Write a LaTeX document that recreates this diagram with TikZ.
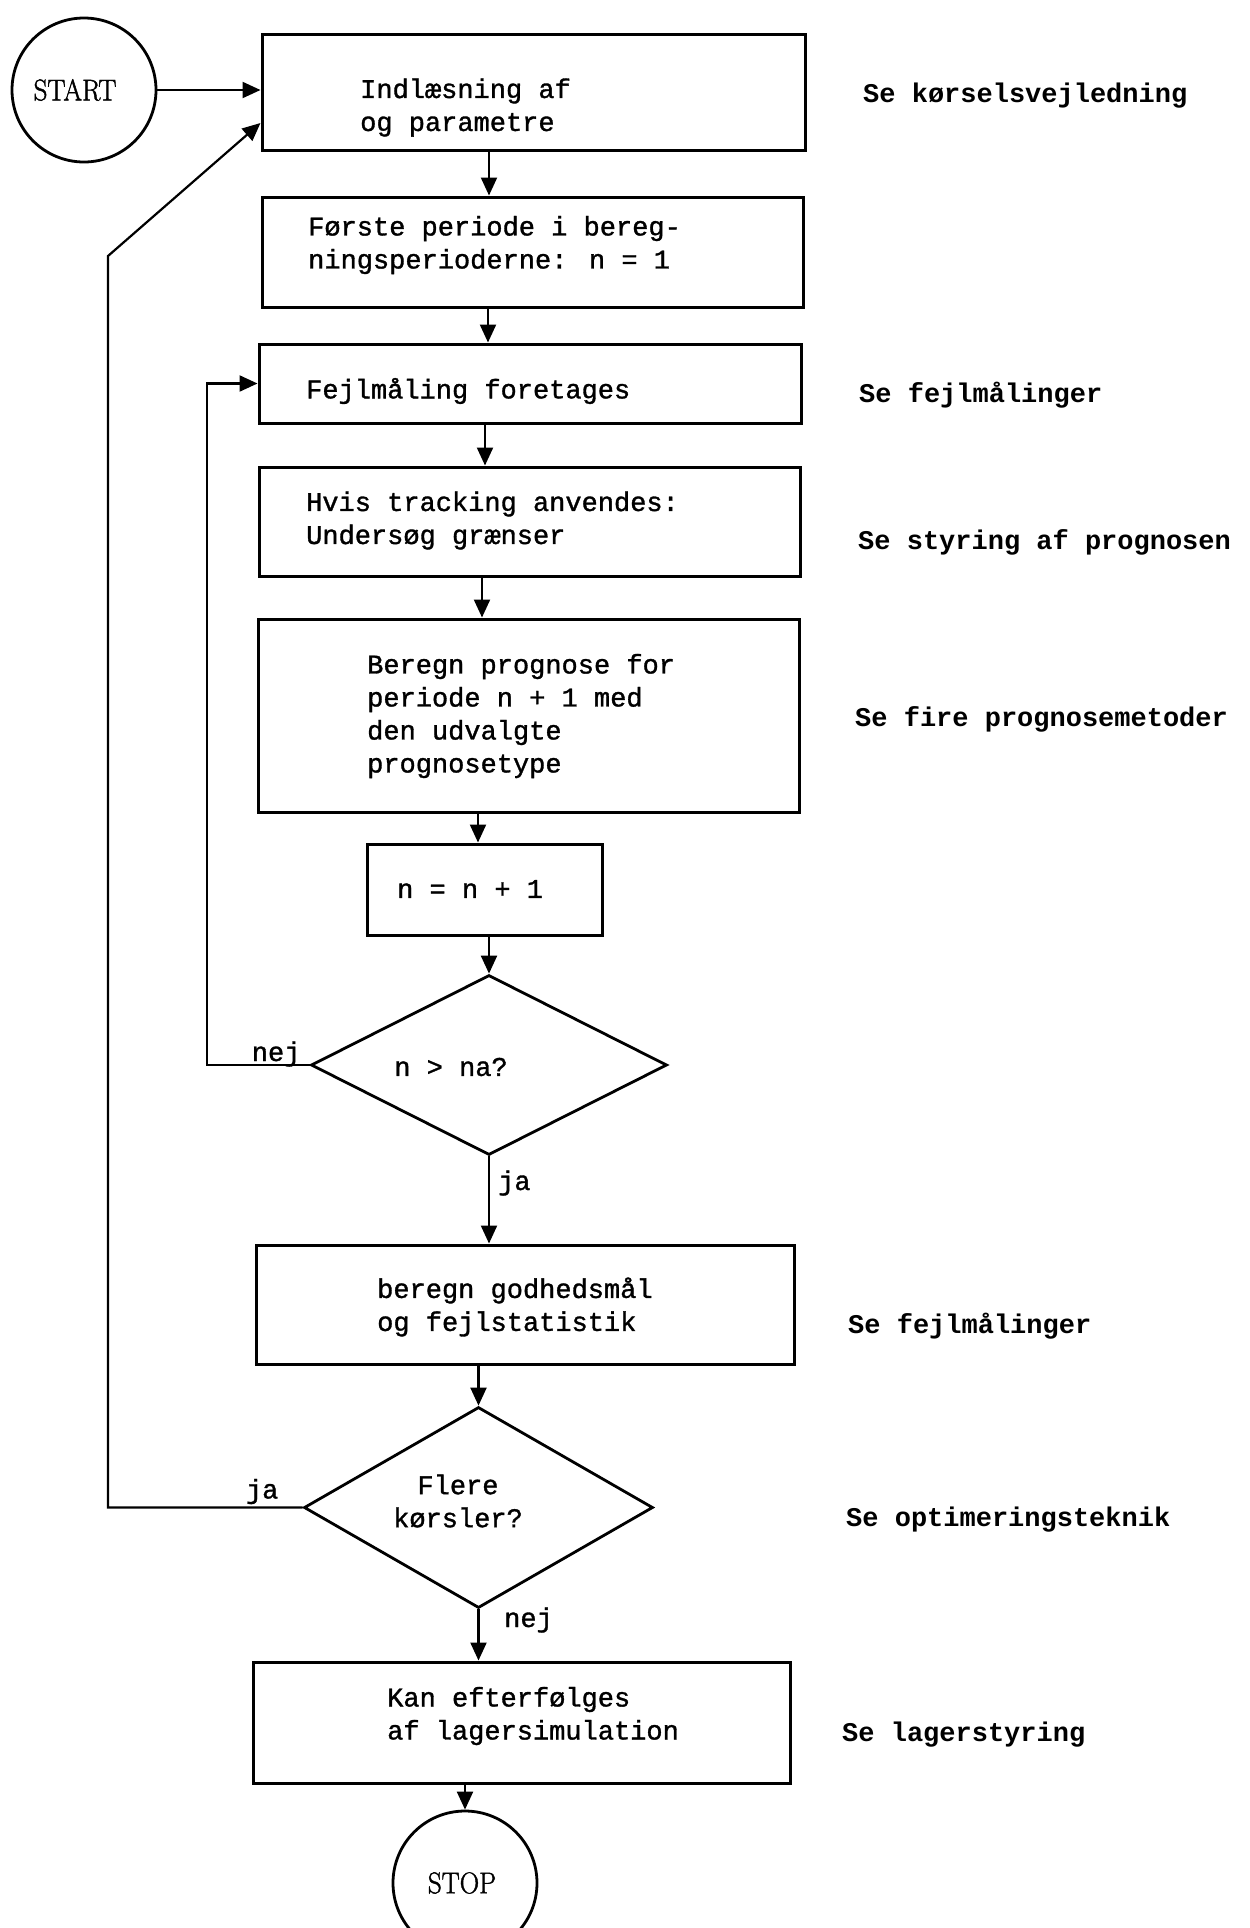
\documentclass[tikz,border=0pt]{standalone}
\usepackage{fontspec}
\setmonofont{Liberation Mono}
\newfontfamily\boxfont[FakeBold=1.2]{Liberation Mono}
\newfontfamily\termfont[FakeBold=1.4,FakeStretch=0.9]{Latin Modern Roman}
\usetikzlibrary{shapes.geometric,arrows.meta,calc}
\tikzset{
  box/.style={draw, line width=3pt, inner sep=0pt},
  txt/.style={font=\fontsize{27}{33}\selectfont\boxfont, align=left, inner sep=0pt},
  reftxt/.style={font=\fontsize{27}{33}\selectfont\ttfamily\bfseries, anchor=west, inner sep=0pt},
  lbl/.style={font=\fontsize{27}{33}\selectfont\boxfont, inner sep=0pt},
  term/.style={draw, circle, line width=2.8pt, minimum size=144pt, inner sep=0pt},
  termtxt/.style={font=\fontsize{30}{32}\selectfont\termfont, inner sep=0pt},
  dec/.style={draw, diamond, line width=2.8pt, inner sep=0pt},
  arr/.style={line width=2.2pt, -{Triangle[length=18pt,width=16pt]}},
}
\begin{document}
\begin{tikzpicture}[x=1pt,y=-1pt]
\useasboundingbox (0,0) rectangle (1250,1928);
\fill[white] (0,0) rectangle (1250,1928);

% terminals
\node[term] (start) at (84,90) {};
\node[termtxt] (starttxt) at (75,90) {START};
\node[term] (stop) at (465,1883) {};
\node[termtxt] (stoptxt) at (462,1883) {STOP};

% boxes
\node[box, minimum width=543pt, minimum height=116pt] (b1) at (533.5,92) {};
\node[box, minimum width=541pt, minimum height=110pt] (b2) at (532.5,252) {};
\node[box, minimum width=542pt, minimum height=79pt] (b3) at (530,383.5) {};
\node[box, minimum width=541pt, minimum height=109pt] (b4) at (529.5,521.5) {};
\node[box, minimum width=541pt, minimum height=193pt] (b5) at (528.5,715.5) {};
\node[box, minimum width=235pt, minimum height=91pt] (b6) at (484.5,889.5) {};
\node[dec, minimum width=356pt, minimum height=180pt] (d1) at (489,1065) {};
\node[box, minimum width=538pt, minimum height=119pt] (b7) at (525,1304.5) {};
\node[dec, minimum width=349pt, minimum height=201pt] (d2) at (478.5,1507.5) {};
\node[box, minimum width=537pt, minimum height=121pt] (b8) at (521.5,1722.5) {};

% box texts
\node[txt, anchor=west] (t1) at (360,107.5) {Indlæsning af\\og parametre};
\node[txt, anchor=west] (t2) at (308,245) {Første periode i bereg-\\ningsperioderne: n = 1};
\node[txt, anchor=west] (t3) at (306,391) {Fejlmåling foretages};
\node[txt, anchor=west] (t4) at (306,520.5) {Hvis tracking anvendes:\\Undersøg grænser};
\node[txt, anchor=west] (t5) at (367,716) {Beregn prognose for\\periode n + 1 med\\den udvalgte\\prognosetype};
\node[txt, anchor=west] (t6) at (397,889) {n = n + 1};
\node[txt, anchor=center] (td1) at (451,1067) {n > na?};
\node[txt, anchor=west] (t7) at (377,1307) {beregn godhedsmål\\og fejlstatistik};
\node[txt, anchor=center, align=center] (td2) at (458,1501) {Flere\\kørsler?};
\node[txt, anchor=west] (t8) at (387,1716) {Kan efterfølges\\af lagersimulation};

% references
\node[reftxt] (r1) at (863,96) {Se kørselsvejledning};
\node[reftxt] (r2) at (859,395) {Se fejlmålinger};
\node[reftxt] (r3) at (858,542) {Se styring af prognosen};
\node[reftxt] (r4) at (855,719) {Se fire prognosemetoder};
\node[reftxt] (r5) at (848,1326) {Se fejlmålinger};
\node[reftxt] (r6) at (846,1520) {Se optimeringsteknik};
\node[reftxt] (r7) at (842,1735) {Se lagerstyring};

% helper coordinates
\coordinate (ax1) at (489,0);
\coordinate (ax2) at (488,0);
\coordinate (ax3) at (485,0);
\coordinate (ax4) at (482,0);
\coordinate (ax5) at (478,0);
\coordinate (lx1) at (207,0);
\coordinate (lx2) at (108,256);
\coordinate (b1in) at ([yshift=-31pt]b1.west);

% main flow
\draw[arr] (start.east) -- (start.east -| b1.west);
\draw[arr] (b1.south -| ax1) -- (b2.north -| ax1);
\draw[arr] (b2.south -| ax2) -- (b3.north -| ax2);
\draw[arr] (b3.south -| ax3) -- (b4.north -| ax3);
\draw[arr] (b4.south -| ax4) -- (b5.north -| ax4);
\draw[arr] (b5.south -| ax5) -- (b6.north -| ax5);
\draw[arr] (b6.south -| d1.north) -- (d1.north);
\draw[arr] (d1.south) -- (b7.north -| d1.south);
\draw[arr] (b7.south -| d2.north) -- (d2.north);
\draw[arr] (d2.south) -- (b8.north -| d2.south);
\draw[arr] (b8.south -| stop.north) -- (stop.north);

% loops
\draw[arr] (d1.west) -- (d1.west -| lx1) |- (b3.west);
\draw[arr] (d2.west) -- (d2.west -| lx2) -- (lx2) -- (b1in);

% labels
\node[lbl, anchor=base east] (nej1) at ([xshift=-9pt,yshift=4pt]d1.west) {nej};
\node[lbl, anchor=west] (ja1) at (498,1183) {ja};
\node[lbl, anchor=base east] (ja2) at ([xshift=-24pt,yshift=9pt]d2.west) {ja};
\node[lbl, anchor=west] (nej2) at (504,1620) {nej};
\end{tikzpicture}
\end{document}
